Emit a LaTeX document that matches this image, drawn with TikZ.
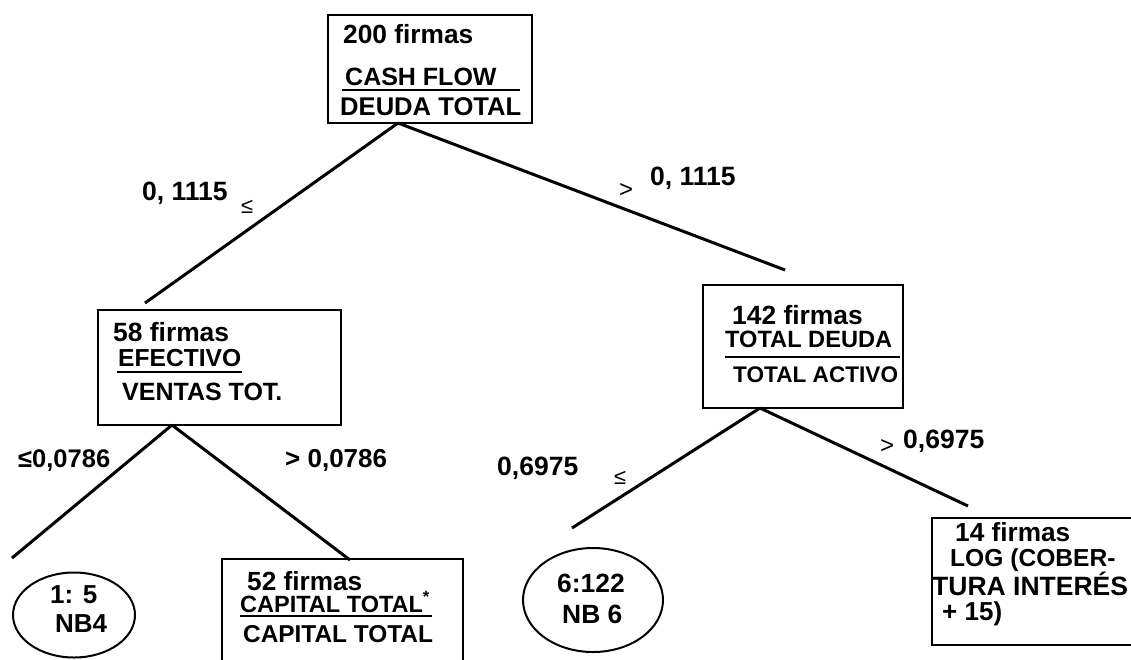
\documentclass[tikz,border=0pt]{standalone}
\usepackage{fontspec}
\setmainfont{Liberation Sans}
\usetikzlibrary{shapes.geometric}
\begin{document}
\begin{tikzpicture}[x=1pt,y=-1pt,
  box/.style={draw,line width=2pt,inner sep=0pt},
  leaf/.style={draw,ellipse,line width=2pt,inner sep=0pt},
  txt/.style={anchor=base west,inner sep=0pt,font=\fontsize{#1}{#1}\selectfont\bfseries},
  txt/.default=25,
  sym/.style={anchor=base west,inner sep=0pt,font=\fontsize{#1}{#1}\selectfont},
  sym/.default=22,
  conn/.style={line width=3pt},
  frac/.style={line width=1.6pt}]
\useasboundingbox (0,0) rectangle (1131,659);
\clip (0,0) rectangle (1131,659);
% boxes
\node[box,minimum width=204pt,minimum height=108pt] (root) at (430,69) {};
\node[box,minimum width=243pt,minimum height=115pt] (n58) at (219.5,367.5) {};
\node[box,minimum width=200pt,minimum height=123pt] (n142) at (803,346.5) {};
\node[box,minimum width=241pt,minimum height=140pt] (n52) at (342.5,629) {};
\node[box,minimum width=230pt,minimum height=127pt] (n14) at (1047,581.5) {};
\node[leaf,minimum width=122pt,minimum height=85pt] (nb4) at (74,615) {};
\node[leaf,minimum width=140pt,minimum height=104pt] (nb6) at (593,600) {};
% root text
\node[txt=26.3] (t200) at (343,43) {200 firmas};
\node[txt=25] (tcash) at (345,85) {CASH FLOW};
\draw[frac] (342,90) -- (520,90);
\node[txt=25.6] (tdeuda) at (340,115) {DEUDA TOTAL};
% 58 text
\node[txt=26.4] (t58) at (113,341) {58 firmas};
\node[txt=24.6] (tefe) at (118,366) {EFECTIVO};
\draw[frac] (117,372) -- (242,372);
\node[txt=25] (tven) at (122,400) {VENTAS TOT.};
% 142 text
\node[txt=26.4] (t142) at (732,324) {142 firmas};
\node[txt=23.6] (ttd) at (725,347) {TOTAL DEUDA};
\draw[frac] (725,357) -- (900,357);
\node[txt=22.6] (tta) at (733,382) {TOTAL ACTIVO};
% 52 text
\node[txt=26.2] (t52) at (247,590) {52 firmas};
\node[txt=23.5] (tcap1) at (240,612) {CAPITAL TOTAL\textsuperscript{*}};
\draw[frac] (240,616) -- (432,616);
\node[txt=24.4] (tcap2) at (243,642) {CAPITAL TOTAL};
% 14 text
\node[txt=26.2] (t14) at (955,541) {14 firmas};
\node[txt=24.6] (tlog) at (950,566) {LOG (COBER-};
\node[txt=26.5] (ttura) at (932,595) {TURA INTERÉS};
\node[txt=26] (t15) at (942,620) {+ 15)};
% leaves text
\node[txt=26] (tl1) at (50,603) {1: 5};
\node[txt=26] (tl2) at (55,632) {NB4};
\node[txt=26.4] (tl3) at (557,592) {6:122};
\node[txt=26.4] (tl4) at (562,623) {NB 6};
% connectors
\coordinate (rootB) at (398,123);
\coordinate (eL1) at (145,303);
\coordinate (eR1) at (785,270);
\coordinate (n58B) at (172,425);
\coordinate (eL2) at (12,558);
\coordinate (eR2) at (350,560);
\coordinate (n142B) at (760,408);
\coordinate (eL3) at (572,528);
\coordinate (eR3) at (968,506);
\draw[conn] (rootB) -- (eL1);
\draw[conn] (rootB) -- (eR1);
\draw[conn] (n58B) -- (eL2);
\draw[conn] (n58B) -- (eR2);
\draw[conn] (n142B) -- (eL3);
\draw[conn] (n142B) -- (eR3);
% edge labels
\node[txt=26.5] (l1) at (142,200) {0, 1115};
\node[sym] (l1s) at (241,213) {≤};
\node[sym=24] (l2s) at (619,197) {>};
\node[txt=26.5] (l2) at (650,185) {0, 1115};
\node[txt=25.5] (l3) at (18,467) {≤0,0786};
\node[txt=26] (l4) at (285,467) {> 0,0786};
\node[txt=26.5] (l5) at (497,475) {0,6975};
\node[sym] (l5s) at (614,484) {≤};
\node[sym=24] (l6s) at (880,453) {>};
\node[txt=26.5] (l6) at (903,448) {0,6975};
\end{tikzpicture}
\end{document}
